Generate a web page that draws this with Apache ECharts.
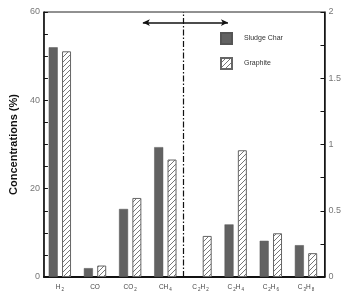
<!DOCTYPE html>
<html><head><meta charset="utf-8">
<script src="https://cdn.jsdelivr.net/npm/echarts@6/dist/echarts.min.js"></script>
<style>html,body{margin:0;padding:0;background:#fff}#c{width:344px;height:293px}</style>
</head><body><div id="c"></div>
<script>
const categories = ['H2','CO','CO2','CH4','C2H2','C2H4','C2H6','C3H8'];
const sludgeChar = [52.0, 2.0, 15.4, 29.4, null, 11.9, 8.2, 7.2];
const graphite   = [51.1, 2.6, 17.9, 26.6, 9.3, 28.7, 9.9, 5.4];
const leftTicks = {min: 0, max: 60, interval: 20};
const rightTicks = {min: 0, max: 2, interval: 0.5};
// annotations (category-index units / left-axis units)
const dividerX = [3.5];
const arrowSpan = [2.36, 4.78];
const arrowY = [57.6];

const cv = document.createElement('canvas');
cv.width = 5; cv.height = 5;
const g = cv.getContext('2d');
g.fillStyle = '#fff'; g.fillRect(0,0,5,5);
g.strokeStyle = '#777'; g.lineWidth = 1;
g.beginPath(); g.moveTo(-1,6); g.lineTo(6,-1); g.stroke();
g.beginPath(); g.moveTo(-1,1); g.lineTo(1,-1); g.stroke();
g.beginPath(); g.moveTo(4,6); g.lineTo(6,4); g.stroke();

function fmt(v){
  return v.replace(/([A-Z])(\d)?/g, function(m, a, d){ return '{n|'+a+'}' + (d ? '{s|'+d+'}' : ''); });
}

const chart = echarts.init(document.getElementById('c'), null, {renderer:'canvas'});
chart.setOption({
  animation: false,
  backgroundColor: '#fff',
  grid: [
    {left: 35, right: 18, top: 12, bottom: 16, show: true, borderColor: '#222', borderWidth: 1, backgroundColor: 'transparent'},
    {left: 42.3, right: 20.4, top: 12, bottom: 16}
  ],
  legend: {
    left: 220, top: 32, orient: 'vertical', itemWidth: 11, itemHeight: 11, itemGap: 12,
    padding: 0, icon: 'rect',
    textStyle: {fontSize: 7, color: '#333', fontFamily: 'Liberation Sans', padding: [0,0,0,7]},
    data: ['Sludge Char', 'Graphite']
  },
  xAxis: [
    {gridIndex: 0, type: 'value', min: 0, max: 1, axisLine: {show: true, lineStyle: {color: '#111', width: 2}},
     axisTick: {show: false}, axisLabel: {show: false}, splitLine: {show: false}},
    {gridIndex: 1, type: 'category', data: categories, axisLine: {show: false}, axisTick: {show: false},
     axisLabel: {margin: 6, formatter: fmt, interval: 0,
       rich: {n: {fontSize: 6.5, color: '#444', fontFamily: 'Liberation Sans', lineHeight: 9},
              s: {fontSize: 4.5, color: '#444', fontFamily: 'Liberation Sans', lineHeight: 9, padding: [4,0,0,1]}}}},
    {gridIndex: 1, type: 'value', min: -0.5, max: 7.5, show: false}
  ],
  yAxis: [
    {gridIndex: 0, type: 'value', position: 'left', min: leftTicks.min, max: leftTicks.max, interval: leftTicks.interval,
     name: 'Concentrations (%)', nameLocation: 'middle', nameGap: 23, nameRotate: 90,
     nameTextStyle: {fontSize: 11, fontWeight: 'bold', color: '#111', fontFamily: 'Liberation Sans'},
     axisLine: {show: true, lineStyle: {color: '#111', width: 1.5}},
     axisTick: {show: true, inside: true, length: 4, lineStyle: {color: '#111'}},
     minorTick: {show: true, splitNumber: 4, length: 4, lineStyle: {color: '#111'}},
     axisLabel: {fontSize: 9, color: '#777', margin: 4, fontFamily: 'Liberation Sans'},
     splitLine: {show: false}},
    {gridIndex: 0, type: 'value', position: 'right', min: rightTicks.min, max: rightTicks.max, interval: rightTicks.interval,
     axisLine: {show: true, lineStyle: {color: '#111', width: 1.5}},
     axisTick: {show: true, inside: true, length: 4, lineStyle: {color: '#111'}},
     minorTick: {show: true, splitNumber: 2, length: 4, lineStyle: {color: '#111'}},
     axisLabel: {fontSize: 9, color: '#777', margin: 4, fontFamily: 'Liberation Sans'},
     splitLine: {show: false}},
    {gridIndex: 1, type: 'value', min: leftTicks.min, max: leftTicks.max, show: false}
  ],
  series: [
    {name: 'Sludge Char', type: 'bar', xAxisIndex: 1, yAxisIndex: 2, data: sludgeChar,
     barWidth: 9, barGap: '48%', itemStyle: {color: '#626262', borderColor: '#555', borderWidth: 0.5}},
    {name: 'Graphite', type: 'bar', xAxisIndex: 1, yAxisIndex: 2, data: graphite,
     barWidth: 9, barGap: '48%', itemStyle: {color: {image: cv, repeat: 'repeat'}, borderColor: '#666', borderWidth: 1}},
    {name: 'divider', type: 'line', xAxisIndex: 2, yAxisIndex: 2, data: [], silent: true,
     markLine: {silent: true, symbol: ['none','none'], label: {show: false},
       lineStyle: {color: '#111', width: 1.2, type: [6,2,1.5,2]},
       data: dividerX.map(x => [{coord: [x, leftTicks.min]}, {coord: [x, leftTicks.max]}])}},
    {name: 'arrow', type: 'line', xAxisIndex: 2, yAxisIndex: 2, data: [], silent: true,
     markLine: {silent: true, symbol: ['arrow','arrow'], symbolSize: [5,7], label: {show: false},
       lineStyle: {color: '#111', width: 1.5, type: 'solid'},
       data: [[{coord: [arrowSpan[0], arrowY[0]]}, {coord: [arrowSpan[1], arrowY[0]]}]]}}
  ]
});
</script></body></html>
